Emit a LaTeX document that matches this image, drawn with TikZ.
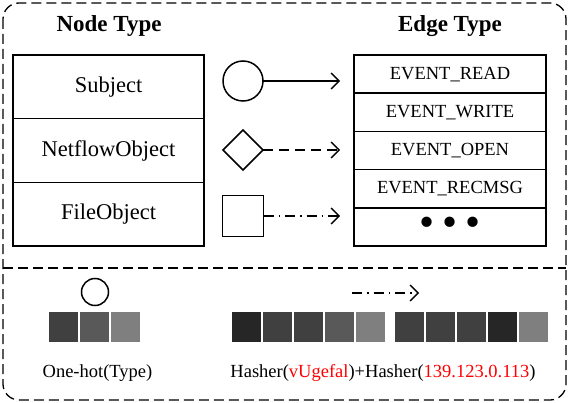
\documentclass[tikz,border=0pt]{standalone}
\usepackage{fontspec}
\setmainfont{Liberation Serif}
\usetikzlibrary{positioning,arrows.meta,shapes.geometric}
\definecolor{bitA}{HTML}{262626}
\definecolor{bitB}{HTML}{404040}
\definecolor{bitC}{HTML}{595959}
\definecolor{bitD}{HTML}{7F7F7F}
\tikzset{
  cell/.style={draw, line width=1.4pt, outer sep=0pt, inner sep=0pt, minimum width=191pt},
  ntcell/.style={cell, minimum height=63.7pt, font=\fontsize{22.5}{24}\selectfont},
  etcell/.style={cell, minimum height=38.2pt, font=\fontsize{18.5}{20}\selectfont},
  title/.style={font=\fontsize{23}{25}\selectfont\bfseries},
  glyph/.style={draw, line width=1.5pt, inner sep=0pt, outer sep=0pt},
  link/.style={line width=1.3pt, -{Straight Barb[length=8pt,width=16pt]}},
  dashlink/.style={link, dash pattern=on 10pt off 6pt},
  dotlink/.style={link, dash pattern=on 10pt off 5pt on 1.5pt off 5pt},
  bit/.style={minimum width=29pt, minimum height=30pt, inner sep=0pt, outer sep=0pt},
  label/.style={font=\fontsize{18.5}{20}\selectfont, anchor=base},
}
\begin{document}
\begin{tikzpicture}[x=1pt,y=-1pt]
\useasboundingbox (0,0) rectangle (569,403);
% frame
\draw[line width=1.3pt, dash pattern=on 10pt off 5pt, rounded corners=16pt] (3,3) rectangle (566,400);
\draw[line width=1.3pt, dash pattern=on 10pt off 5pt] (3,268) -- (566,268);

% node types
\node[title] (ntitle) at (109,26) {Node Type};
\node[ntcell, anchor=north west] (subj) at (13,55) {Subject};
\node[ntcell, below=0pt of subj] (netf) {NetflowObject};
\node[ntcell, below=0pt of netf] (file) {FileObject};

% edge types
\node[title] (etitle) at (450,26) {Edge Type};
\node[etcell, minimum width=192pt, anchor=north west] (eread) at (354,55) {EVENT\_READ};
\node[etcell, minimum width=192pt, below=0pt of eread] (ewrite) {EVENT\_WRITE};
\node[etcell, minimum width=192pt, below=0pt of ewrite] (eopen) {EVENT\_OPEN};
\node[etcell, minimum width=192pt, below=0pt of eopen] (erecv) {EVENT\_RECMSG};
\node[etcell, minimum width=192pt, below=0pt of erecv, font=\fontsize{43}{43}\selectfont] (emore) {\raisebox{-3pt}{\textbullet\hspace{8pt}\textbullet\hspace{8pt}\textbullet}};

% shapes and their edge styles
\node[glyph, circle, minimum size=40pt] (circ) at (243,81) {};
\node[glyph, diamond, minimum size=40pt] (dia) at (243,150) {};
\node[glyph, minimum size=41pt] (sq) at (243,216) {};
\coordinate (tipA) at (340,81);
\coordinate (tipB) at (340,150);
\coordinate (tipC) at (340,216);
\draw[link] (circ) -- (tipA);
\draw[dashlink] (dia) -- (tipB);
\draw[dotlink] (sq) -- (tipC);

% encoding
\node[glyph, circle, minimum size=27pt] (bcirc) at (95,292) {};
\foreach \c [count=\i] in {bitB,bitC,bitD}
  \node[bit, fill=\c] (oh\i) at (32.5+31*\i,327) {};
\foreach \c [count=\i] in {bitA,bitB,bitB,bitC,bitD}
  \node[bit, fill=\c] (ha\i) at (215.5+31*\i,327) {};
\foreach \c [count=\i] in {bitB,bitB,bitB,bitA,bitD}
  \node[bit, fill=\c] (hb\i) at (378+31*\i,327) {};
\coordinate (hstart) at (352,293);
\coordinate (htip) at (419,293);
\draw[dotlink] (hstart) -- (htip);

\node[label] (ohtext) at (97.5,377) {One-hot(Type)};
\node[label] (hashtext) at (383,377) {Hasher(\textcolor{red}{vUgefal})+Hasher(\textcolor{red}{139.123.0.113})};
\end{tikzpicture}
\end{document}
